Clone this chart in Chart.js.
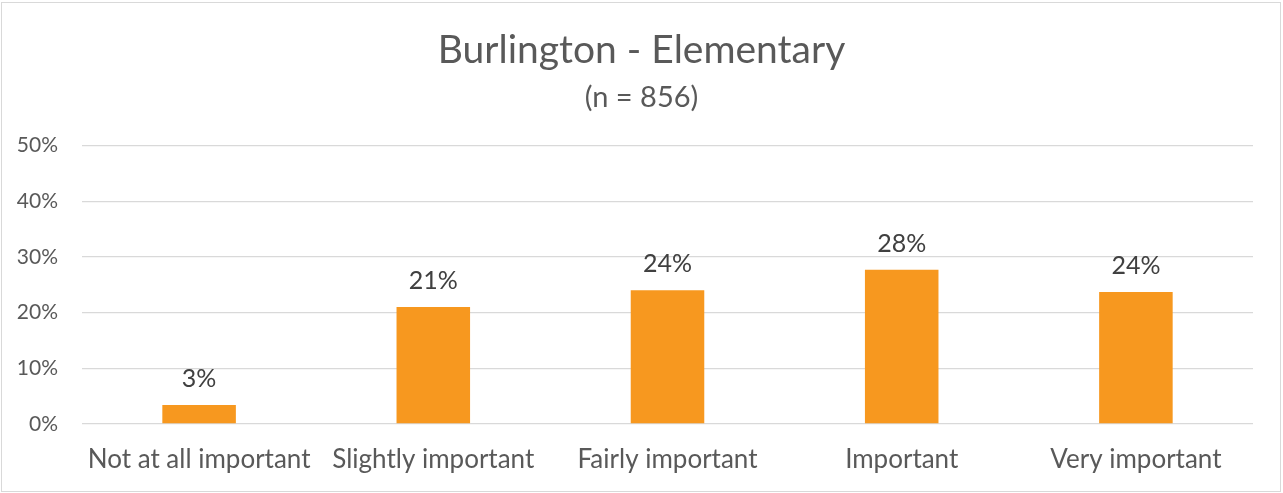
<!DOCTYPE html>
<html>
<head>
<meta charset="utf-8">
<script src="https://cdn.jsdelivr.net/npm/chart.js@4"></script>
<style>
  html, body { margin: 0; padding: 0; background: #fff; }
  #frame {
    position: absolute; left: 1px; top: 2px; width: 1280px; height: 490px;
    border: 1px solid #d9d9d9; box-sizing: border-box;
  }
  #wrap { position: absolute; left: 0; top: 0; width: 1283px; height: 493px; }
</style>
</head>
<body>
<div id="frame"></div>
<div id="wrap"><canvas id="chart" width="1283" height="493"></canvas></div>
<script>
const categories = ['Not at all important', 'Slightly important', 'Fairly important', 'Important', 'Very important']
const percentages = [3.4, 21.0, 24.0, 27.7, 23.7]
const valueLabels = ['3%', '21%', '24%', '28%', '24%']
const yTicks = [0, 10, 20, 30, 40, 50]

const FONT = 'Lato, "Noto Sans", sans-serif'

// draws the "21%" style labels over each bar
const barLabels = {
  id: 'barLabels',
  afterDatasetsDraw(chart) {
    const ctx = chart.ctx
    const meta = chart.getDatasetMeta(0)
    ctx.save()
    ctx.fillStyle = '#404040'
    ctx.font = '25px ' + FONT
    ctx.textAlign = 'center'
    ctx.textBaseline = 'alphabetic'
    meta.data.forEach((bar, i) => {
      ctx.fillText(valueLabels[i], bar.x, bar.y - 18)
    })
    ctx.restore()
  },
}

const ctx = document.getElementById('chart').getContext('2d')

new Chart(ctx, {
  type: 'bar',
  data: {
    labels: categories,
    datasets: [
      {
        label: 'Burlington - Elementary',
        backgroundColor: '#f7981f',
        borderWidth: 0,
        data: percentages,
        barPercentage: 0.314,
        categoryPercentage: 1,
      },
    ],
  },
  options: {
    responsive: false,
    animation: false,
    layout: { padding: 0 },
    plugins: {
      legend: { display: false },
      tooltip: { enabled: false },
      title: {
        display: true,
        text: 'Burlington - Elementary',
        color: '#595959',
        font: { family: FONT, size: 39, weight: 'normal' },
        padding: { top: 27, bottom: 4 },
      },
      subtitle: {
        display: true,
        text: '(n = 856)',
        color: '#595959',
        font: { family: FONT, size: 29, weight: 'normal' },
        padding: { top: 2, bottom: 31 },
      },
    },
    scales: {
      x: {
        grid: { display: false, drawTicks: false },
        border: { display: false },
        afterFit(scale) {
          scale.height = 69
        },
        ticks: {
          color: '#595959',
          font: { family: FONT, size: 26 },
          padding: 20,
          maxRotation: 0,
          autoSkip: false,
        },
      },
      y: {
        min: 0,
        max: 50,
        afterBuildTicks(scale) {
          scale.ticks = yTicks.map(v => ({ value: v }))
        },
        afterFit(scale) {
          scale.width = 82
        },
        grid: { color: '#d9d9d9', lineWidth: 1.3, drawTicks: false },
        border: { display: false },
        ticks: {
          color: '#595959',
          font: { family: FONT, size: 21 },
          padding: 24,
          callback: v => v + '%',
        },
      },
      // empty right-hand gutter so the plot ends where the reference does
      gutter: {
        position: 'right',
        min: 0,
        max: 50,
        grid: { display: false, drawTicks: false },
        border: { display: false },
        ticks: { display: false },
        afterFit(scale) {
          scale.width = 30
        },
      },
    },
  },
  plugins: [barLabels],
})
</script>
</body>
</html>
